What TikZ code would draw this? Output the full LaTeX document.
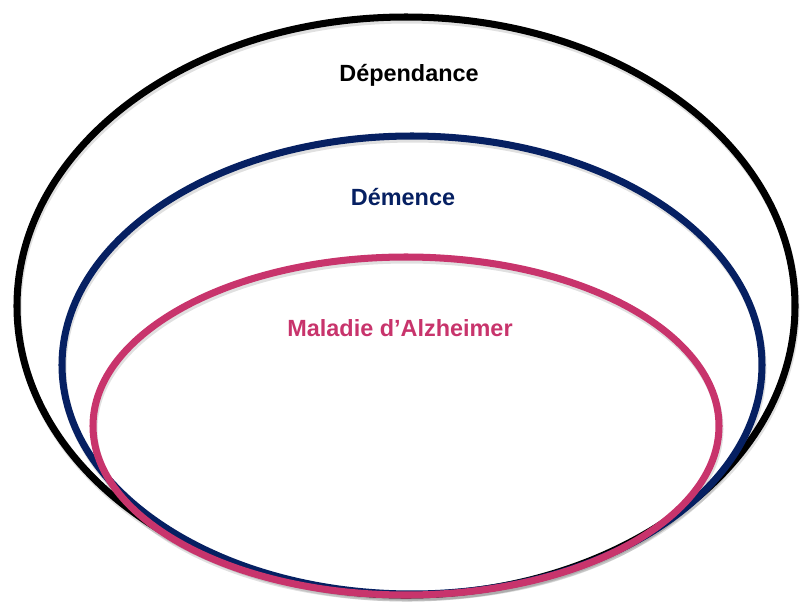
\documentclass[tikz,border=0pt]{standalone}
\usepackage{fontspec}
\setmainfont{Liberation Sans}
\usepackage{tikz}
\usetikzlibrary{calc}
\usetikzlibrary{positioning}
\definecolor{navy}{RGB}{6,32,98}
\definecolor{rose}{RGB}{200,52,108}
\tikzstyle{ring} = [line width=6pt]
\tikzstyle{ringshadow} = [line width=6pt, draw=black, opacity=0.12]
\tikzstyle{label} = [font=\fontsize{20}{24}\selectfont\bfseries, anchor=center]

\begin{document}
\begin{tikzpicture}[x=0.03cm, y=-0.03cm]
    % picture frame, in pixels of the reference
    \useasboundingbox (0,0) rectangle (800,602);
    % centres of the three sets
    \coordinate (dep) at (406,306);
    \coordinate (dem) at (412,365);
    \coordinate (alz) at (406,426);
    % soft shadows under the rings
    \draw [ringshadow] ($(dep)+(1,3)$) ellipse [x radius=389, y radius=289];
    \draw [ringshadow] ($(dem)+(1,3)$) ellipse [x radius=350, y radius=229];
    \draw [ringshadow] ($(alz)+(1,3)$) ellipse [x radius=313, y radius=169];
    % the rings, outer to inner
    \draw [ring, black] (dep) ellipse [x radius=389, y radius=289];
    \draw [ring, navy] (dem) ellipse [x radius=350, y radius=229];
    \draw [ring, rose] (alz) ellipse [x radius=313, y radius=169];
    % labels
    \node [label, text=black] (deplabel) at (409,75) {Dépendance};
    \node [label, text=navy] (demlabel) at (403,197) {Démence};
    \node [label, text=rose] (alzlabel) at (400,328) {Maladie d’Alzheimer};
\end{tikzpicture}
\end{document}
